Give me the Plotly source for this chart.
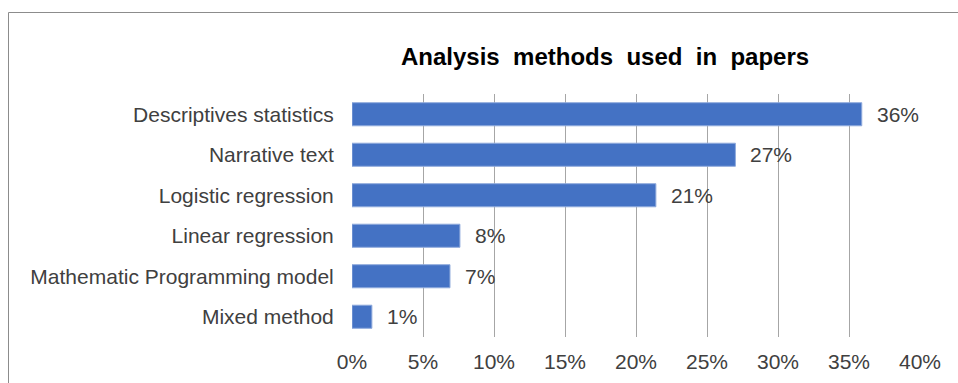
import plotly.graph_objects as go

categories = ["Descriptives statistics", "Narrative text", "Logistic regression",
              "Linear regression", "Mathematic Programming model", "Mixed method"]
values = [35.9, 27.0, 21.4, 7.6, 6.9, 1.4]
value_labels = ["36%", "27%", "21%", "8%", "7%", "1%"]
x_ticks = [0, 5, 10, 15, 20, 25, 30, 35, 40]
x_tick_labels = ["0%", "5%", "10%", "15%", "20%", "25%", "30%", "35%", "40%"]
title = "Analysis  methods  used  in  papers"

FONT = "Liberation Sans, Arial, sans-serif"
TXT = "#404040"

fig = go.Figure()
fig.add_trace(go.Bar(
    y=categories, x=values, orientation="h",
    marker=dict(color="#4472C4", line=dict(color="#8FAADC", width=1)),
    hoverinfo="skip",
))

for c, v, lab in zip(categories, values, value_labels):
    fig.add_annotation(x=v, y=c, xref="x", yref="y", text=lab, showarrow=False,
                       xanchor="left", yanchor="middle", xshift=13,
                       font=dict(family=FONT, size=21, color=TXT))

fig.add_annotation(x=(605 - 352) / 568, y=1 + (94 - 57) / 243, xref="paper", yref="paper",
                   text="<b>" + title + "</b>", showarrow=False,
                   xanchor="center", yanchor="middle",
                   font=dict(family=FONT, size=24, color="#000000"))

fig.update_layout(
    width=958, height=383,
    margin=dict(l=352, r=38, t=94, b=46, autoexpand=False),
    paper_bgcolor="white", plot_bgcolor="white",
    bargap=0.43,
    showlegend=False,
    font=dict(family=FONT, size=21, color=TXT),
    xaxis=dict(range=[0, 40], tickvals=x_ticks, ticktext=x_tick_labels,
               showgrid=True, gridcolor="#A6A6A6", gridwidth=1,
               zeroline=False, showline=False, automargin=False,
               ticks="outside", ticklen=6, tickcolor="rgba(0,0,0,0)", fixedrange=True,
               tickfont=dict(family=FONT, size=21, color=TXT)),
    yaxis=dict(categoryorder="array", categoryarray=categories[::-1],
               showgrid=False, zeroline=False, showline=False, automargin=False,
               ticks="outside", ticklen=13, tickcolor="rgba(0,0,0,0)",
               tickfont=dict(family=FONT, size=21, color=TXT)),
    shapes=[
        dict(type="line", xref="paper", yref="paper",
             x0=(8.5 - 352) / 568, x1=(960 - 352) / 568,
             y0=1 + (94 - 12.5) / 243, y1=1 + (94 - 12.5) / 243,
             line=dict(color="#8C8C8C", width=1)),
        dict(type="line", xref="paper", yref="paper",
             x0=(8.5 - 352) / 568, x1=(8.5 - 352) / 568,
             y0=1 + (94 - 12.5) / 243, y1=-0.3,
             line=dict(color="#8C8C8C", width=1)),
    ],
)

fig.write_html("out.html")
